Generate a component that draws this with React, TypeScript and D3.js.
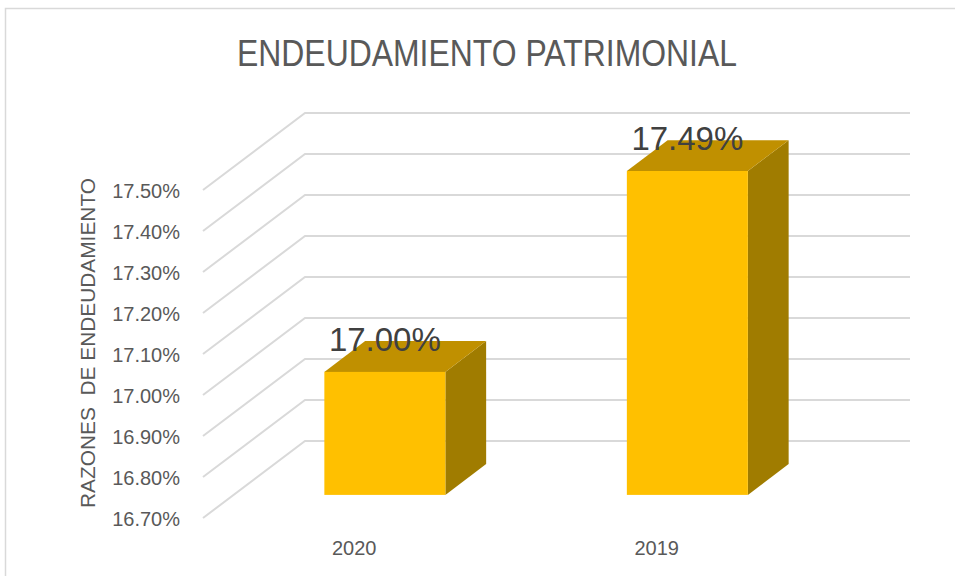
import React from 'react';
import * as d3 from 'd3';

const categories = ['2020', '2019'];
const values = [0.17, 0.1749];
const yTicks = [0.167, 0.168, 0.169, 0.17, 0.171, 0.172, 0.173, 0.174, 0.175];
const chartTitle = 'ENDEUDAMIENTO PATRIMONIAL';
const axisTitle = 'RAZONES  DE ENDEUDAMIENTO';

const font = '"Liberation Sans", Arial, sans-serif';

const App: React.FC = () => {
  const width = 955;
  const height = 576;

  // front plane of the 3d box
  const frontLeft = 203;
  const frontRight = 808;
  // full depth offset of the box
  const depthX = 102;
  const depthY = -77;
  // bars sit between these depth fractions
  const barFront = 0.3;
  const barBack = 0.7;

  const y = d3.scaleLinear().domain([0.167, 0.175]).range([518, 190]);
  const x = d3
    .scaleBand<string>()
    .domain(categories)
    .range([frontLeft, frontRight])
    .paddingInner(0.6)
    .paddingOuter(0.3);

  const fmt = d3.format('.2%');
  const bw = x.bandwidth();

  const line = d3.line<[number, number]>();

  return (
    <svg
      width={width}
      height={height}
      style={{ position: 'fixed', left: 0, top: 0, background: '#fff' }}
    >
      <rect x={5.5} y={8.5} width={980} height={620} fill="#fff" stroke="#d9d9d9" strokeWidth={1.5} />

      <text
        x={487}
        y={66}
        textAnchor="middle"
        fontFamily={font}
        fontSize={37}
        fill="#595959"
        textLength={500}
        lengthAdjust="spacingAndGlyphs"
      >
        {chartTitle}
      </text>

      {/* gridlines: floor/side diagonal then back wall */}
      <g>
        {yTicks.map((t) => {
          const y0 = y(t);
          return (
            <path
              key={t}
              d={
                line([
                  [frontLeft, y0],
                  [frontLeft + depthX, y0 + depthY],
                  [frontRight + depthX, y0 + depthY],
                ]) || ''
              }
              fill="none"
              stroke="#d9d9d9"
              strokeWidth={2}
            />
          );
        })}
      </g>

      {/* y tick labels */}
      <g>
        {yTicks.map((t) => (
          <text
            key={t}
            x={180}
            y={y(t) + 1}
            dy="0.35em"
            textAnchor="end"
            fontFamily={font}
            fontSize={20}
            fill="#595959"
          >
            {fmt(t)}
          </text>
        ))}
      </g>

      <text
        transform="translate(95,343) rotate(-90)"
        textAnchor="middle"
        fontFamily={font}
        fontSize={21}
        fill="#595959"
        textLength={330}
        lengthAdjust="spacingAndGlyphs"
        style={{ whiteSpace: 'pre' }}
      >
        {axisTitle}
      </text>

      {/* bars */}
      <g>
        {categories.map((c, i) => {
          const v = values[i];
          const fx = (x(c) ?? 0) + depthX * barFront;
          const fdy = depthY * barFront;
          const bdx = depthX * (barBack - barFront);
          const bdy = depthY * (barBack - barFront);
          const top = y(v) + fdy;
          const bottom = y(0.167) + fdy;
          const right = fx + bw;
          const side: [number, number][] = [
            [right, top],
            [right + bdx, top + bdy],
            [right + bdx, bottom + bdy],
            [right, bottom],
          ];
          const lid: [number, number][] = [
            [fx, top],
            [fx + bdx, top + bdy],
            [right + bdx, top + bdy],
            [right, top],
          ];
          return (
            <g key={c}>
              <path d={(line(side) || '') + 'Z'} fill="#a07c00" />
              <path d={(line(lid) || '') + 'Z'} fill="#c09000" />
              <rect x={fx} y={top} width={bw} height={bottom - top} fill="#ffc000" />
              <text
                x={fx + bw / 2}
                y={top - 21}
                textAnchor="middle"
                fontFamily={font}
                fontSize={33}
                fill="#404040"
              >
                {fmt(v)}
              </text>
            </g>
          );
        })}
      </g>

      {/* category labels */}
      <g>
        {categories.map((c) => (
          <text
            key={c}
            x={(x(c) ?? 0) + bw / 2}
            y={555}
            textAnchor="middle"
            fontFamily={font}
            fontSize={20}
            fill="#595959"
          >
            {c}
          </text>
        ))}
      </g>
    </svg>
  );
};

export default App;
